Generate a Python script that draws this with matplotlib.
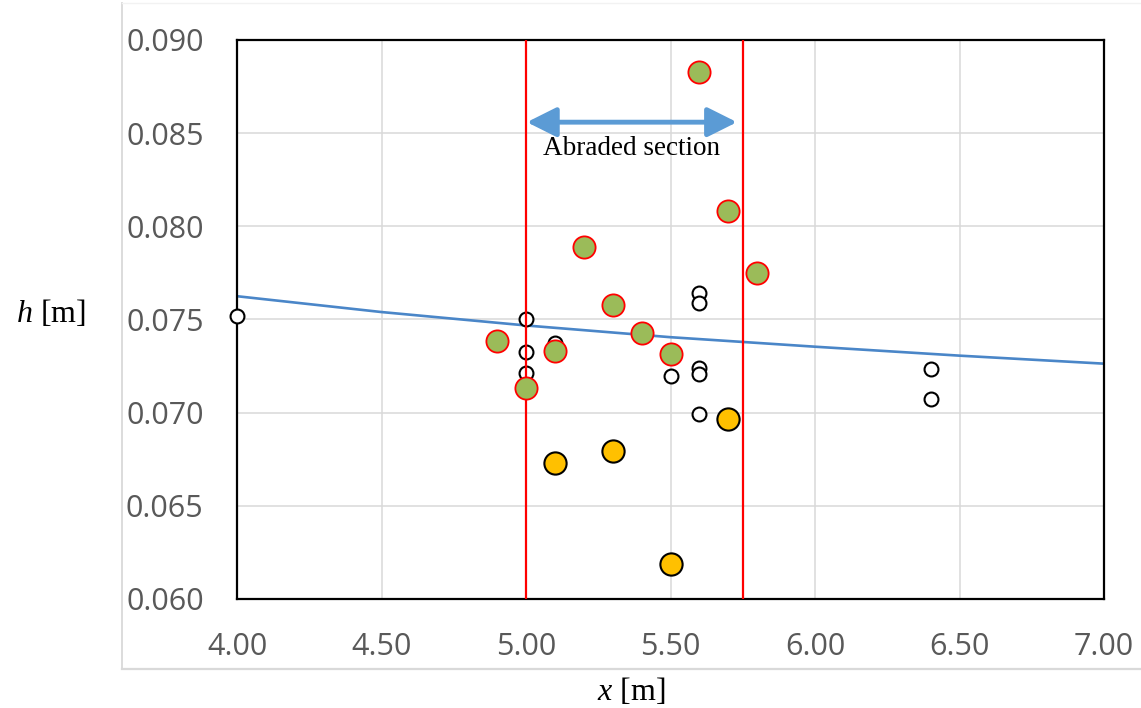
import matplotlib
matplotlib.use("Agg")
import matplotlib.pyplot as plt
from matplotlib.lines import Line2D

plt.rcParams["mathtext.fontset"] = "custom"
plt.rcParams["mathtext.it"] = "Liberation Serif:italic"
plt.rcParams["mathtext.rm"] = "Liberation Serif"

# ---------------- data ----------------
open_x = [4.0, 5.0, 5.0, 5.0, 5.1, 5.5, 5.6, 5.6, 5.6, 5.6, 5.6, 6.4, 6.4]
open_y = [0.0752, 0.0750, 0.07325, 0.07211, 0.07375, 0.07196, 0.07643, 0.07589,
          0.07238, 0.07205, 0.06991, 0.07232, 0.07071]

green_x = [4.9, 5.0, 5.1, 5.2, 5.3, 5.4, 5.5, 5.6, 5.7, 5.8]
green_y = [0.07384, 0.07134, 0.07330, 0.07891, 0.07577, 0.07425, 0.07313,
           0.08829, 0.08084, 0.07752]

yellow_x = [5.1, 5.3, 5.5, 5.7]
yellow_y = [0.06729, 0.06793, 0.06188, 0.06964]

trend_x = [4.0, 4.5, 5.0, 5.5, 6.0, 6.5, 7.0]
trend_y = [0.07625, 0.07540, 0.07468, 0.07405, 0.07354, 0.07306, 0.07263]

section_bounds = [5.00, 5.75]
arrow_start, arrow_end, arrow_level = 5.003, 5.730, 0.08559
section_label = "Abraded section"
label_x, label_y = 5.365, 0.08384

x_ticks = [4.0, 4.5, 5.0, 5.5, 6.0, 6.5, 7.0]
y_ticks = [0.060, 0.065, 0.070, 0.075, 0.080, 0.085, 0.090]

# ---------------- figure ----------------
W, H = 1141, 708
fig = plt.figure(figsize=(W / 100, H / 100), dpi=100)
ax = fig.add_axes([237 / W, 1 - 599 / H, (1104 - 237) / W, (599 - 40) / H])

tick_font = "Open Sans"
tick_color = "#595959"

ax.set_xlim(4.0, 7.0)
ax.set_ylim(0.060, 0.090)
ax.set_xticks(x_ticks)
ax.set_yticks(y_ticks)
ax.set_xticklabels([f"{v:.2f}" for v in x_ticks])
ax.set_yticklabels([f"{v:.3f}" for v in y_ticks])
for lab in ax.get_xticklabels() + ax.get_yticklabels():
    lab.set_fontfamily(tick_font)
    lab.set_fontsize(22)
    lab.set_color(tick_color)
ax.tick_params(axis="both", length=0)
ax.tick_params(axis="y", pad=24)
ax.tick_params(axis="x", pad=24)

ax.grid(True, color="#D9D9D9", lw=1.1, zorder=0)
ax.set_axisbelow(True)
for sp in ax.spines.values():
    sp.set_color("black")
    sp.set_linewidth(1.6)

# trendline
ax.plot(trend_x, trend_y, color="#4A86C8", lw=1.9, zorder=2.5)

# open circles
ax.plot(open_x, open_y, ls="none", marker="o", ms=10, mfc="white",
        mec="black", mew=1.5, zorder=3, clip_on=False)

# section boundaries
for xb in section_bounds:
    ax.axvline(xb, color="#FF0000", lw=1.6, zorder=4)

# green markers
ax.plot(green_x, green_y, ls="none", marker="o", ms=16, mfc="#9BBB59",
        mec="#FF0000", mew=1.3, zorder=5, clip_on=False)

# yellow markers
ax.plot(yellow_x, yellow_y, ls="none", marker="o", ms=16, mfc="#FFC000",
        mec="black", mew=1.5, zorder=6, clip_on=False)

# arrow + label
ax.annotate("", xy=(arrow_end, arrow_level), xytext=(arrow_start, arrow_level),
            arrowprops=dict(arrowstyle="<|-|>,head_length=0.9,head_width=0.45",
                            color="#5B9BD5", lw=3.5, shrinkA=0, shrinkB=0,
                            mutation_scale=20),
            zorder=7)
ax.text(label_x, label_y, section_label, family="Liberation Serif",
        fontsize=19.5, ha="center", va="baseline", color="black", zorder=7)

# axis titles
fig.text(51 / W, 1 - 322 / H, r"$h$ [m]", family="Liberation Serif",
         fontsize=23, ha="center", va="baseline")
fig.text(631 / W, 1 - 700 / H, r"$x$ [m]", family="Liberation Serif",
         fontsize=23, ha="center", va="baseline")

# chart area border
bc = "#D9D9D9"
fig.add_artist(Line2D([122 / W, 122 / W], [1 - 669 / H, 1 - 3 / H],
                      transform=fig.transFigure, color=bc, lw=1.3))
fig.add_artist(Line2D([122 / W, 1.0], [1 - 669 / H, 1 - 669 / H],
                      transform=fig.transFigure, color=bc, lw=1.6))
fig.add_artist(Line2D([122 / W, 1.0], [1 - 3 / H, 1 - 3 / H],
                      transform=fig.transFigure, color="#F2F2F2", lw=1.0))

fig.savefig("out.png", dpi=100)
